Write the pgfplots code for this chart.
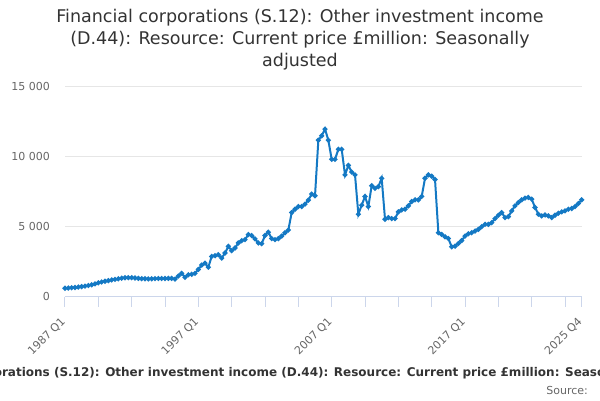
\documentclass[border=0pt]{standalone}
\usepackage{fontspec}
\setmainfont{DejaVu Sans}
\usepackage{pgfplots}
\pgfplotsset{compat=1.18}
\definecolor{serie}{HTML}{1479C4}
\definecolor{titlecol}{HTML}{333333}
\definecolor{labelcol}{HTML}{666666}
\definecolor{gridcol}{HTML}{E6E6E6}
\definecolor{axiscol}{HTML}{CCD6EB}
\pgfplotstableread{
i v
0 600
1 620
2 640
3 660
4 690
5 720
6 760
7 800
8 850
9 920
10 990
11 1050
12 1100
13 1150
14 1200
15 1240
16 1280
17 1320
18 1350
19 1360
20 1360
21 1340
22 1310
23 1290
24 1280
25 1270
26 1280
27 1290
28 1300
29 1300
30 1300
31 1310
32 1310
33 1260
34 1480
35 1670
36 1380
37 1570
38 1600
39 1670
40 1950
41 2260
42 2400
43 2110
44 2880
45 2930
46 3000
47 2760
48 3120
49 3600
50 3290
51 3480
52 3840
53 4000
54 4080
55 4440
56 4370
57 4130
58 3840
59 3790
60 4370
61 4610
62 4150
63 4080
64 4150
65 4330
66 4570
67 4760
68 6010
69 6250
70 6440
71 6440
72 6610
73 6900
74 7330
75 7210
76 11180
77 11490
78 11970
79 11180
80 9810
81 9810
82 10530
83 10530
84 8700
85 9380
86 8900
87 8700
88 5890
89 6540
90 7160
91 6440
92 7930
93 7740
94 7860
95 8460
96 5530
97 5650
98 5580
99 5580
100 6060
101 6200
102 6250
103 6490
104 6800
105 6920
106 6920
107 7160
108 8460
109 8700
110 8610
111 8370
112 4570
113 4450
114 4280
115 4160
116 3560
117 3610
118 3800
119 4010
120 4330
121 4500
122 4570
123 4690
124 4810
125 5000
126 5170
127 5170
128 5290
129 5580
130 5820
131 6010
132 5650
133 5720
134 6130
135 6490
136 6730
137 6920
138 7040
139 7090
140 6970
141 6370
142 5890
143 5770
144 5840
145 5770
146 5650
147 5820
148 5960
149 6060
150 6130
151 6250
152 6300
153 6440
154 6660
155 6920
}\data
\begin{document}
\begin{tikzpicture}
\useasboundingbox (0,0) rectangle (600pt,-400pt);
\clip (0,0) rectangle (600pt,-400pt);
\node[align=center, text=titlecol, font=\fontsize{17.5}{22}\selectfont, anchor=north, inner sep=0pt] at (300pt,-9pt) {Financial corporations (S.12): Other investment income\\(D.44): Resource: Current price £million: Seasonally\\adjusted};
\begin{axis}[
  at={(65pt,-296.7pt)}, anchor=south west,
  scale only axis, width=516.7pt, height=210pt,
  xmin=0, xmax=155, ymin=0, ymax=15000,
  axis x line*=bottom, axis y line*=left,
  y axis line style={draw=none},
  x axis line style={color=axiscol, line width=1pt},
  ytick={0,5000,10000,15000},
  scaled y ticks=false,
  ytick style={draw=none},
  ymajorgrids, grid style={color=gridcol, line width=0.8pt},
  xtick={0,10,20,30,40,50,60,70,80,90,100,110,120,130,140,150,155},
  xticklabels={1987 Q1,,,,1997 Q1,,,,2007 Q1,,,,2017 Q1,,,,2025 Q4},
  tick align=outside,
  xtick style={color=axiscol, line width=1pt},
  major tick length=10pt,
  /pgf/number format/.cd, 1000 sep={\ }, assume math mode=true, /pgfplots/.cd,
  yticklabel style={font=\fontsize{11}{13}\selectfont, text=labelcol, anchor=east, xshift=-1.5pt},
  xticklabel style={font=\fontsize{11}{13}\selectfont, text=labelcol, rotate=45, anchor=north east, xshift=-7pt, yshift=0pt},
]
\addplot[color=serie, line width=2pt, mark=*, mark size=1.4pt, mark options={fill=serie, draw=serie}] table[x=i, y=v] {\data};
\end{axis}
\node[font=\bfseries\fontsize{12}{14}\selectfont, text=titlecol] at (300pt,-373pt) {Financial corporations (S.12): Other investment income (D.44): Resource: Current price £million: Seasonally adjusted};
\node[anchor=east, font=\fontsize{11}{13}\selectfont, text=labelcol, inner sep=0pt] at (588pt,-390pt) {Source:};
\end{tikzpicture}
\end{document}
